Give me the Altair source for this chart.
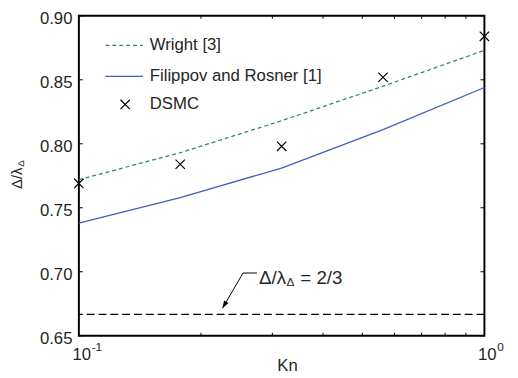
import altair as alt
import pandas as pd

# ---------------- data ----------------
kn = [0.1, 0.1778, 0.3162, 0.5623, 1.0]
wright = [0.772, 0.793, 0.818, 0.845, 0.873]
filippov = [0.738, 0.758, 0.781, 0.811, 0.844]
dsmc = [0.769, 0.784, 0.798, 0.852, 0.884]
limit_value = [2 / 3]
y_ticks = [0.65, 0.70, 0.75, 0.80, 0.85, 0.90]
x_major = [0.1, 1.0]
x_major_exp = ["-1", "0"]
x_minor = [0.2, 0.3, 0.4, 0.5, 0.6, 0.7, 0.8, 0.9]
legend_labels = ["Wright [3]", "Filippov and Rosner [1]", "DSMC"]
arrow_kn = [0.275, 0.254, 0.226]
arrow_y = [0.699, 0.699, 0.6715]

# ---------------- styling ----------------
W, H = 412, 325
FONT = "Liberation Sans"
TXT = "#262626"
GREEN = "#2b8f55"
BLUE = "#3d5fc2"
CROSS = "M-1,-1L1,1M-1,1L1,-1"
HEAD = "M0,0L-0.42,1.25L0.42,1.25Z"

xscale = alt.Scale(type="log", domain=[0.1, 1.0], nice=False)
yscale = alt.Scale(domain=[0.65, 0.90], nice=False, zero=False)
xaxis = alt.Axis(labels=False, ticks=False, domain=False, grid=False, title=None)
yaxis = alt.Axis(values=y_ticks, format=".2f", ticks=False, domain=False, grid=False,
                 title=None, labelFont=FONT, labelFontSize=17, labelColor=TXT,
                 labelPadding=7, labelFlush=False, labelOffset=2.5)


def X(f):
    return alt.X(f, type="quantitative", scale=xscale, axis=xaxis)


def Y(f):
    return alt.Y(f, type="quantitative", scale=yscale, axis=yaxis)


df = pd.DataFrame({"kn": kn, "wright": wright, "filippov": filippov, "dsmc": dsmc})

wright_line = alt.Chart(df).mark_line(color=GREEN, strokeDash=[4, 3], strokeWidth=1.3).encode(
    x=X("kn"), y=Y("wright"))
filippov_line = alt.Chart(df).mark_line(color=BLUE, strokeWidth=1.3).encode(
    x=X("kn"), y=Y("filippov"))
dsmc_pts = alt.Chart(df).mark_point(shape=CROSS, size=90, color="black", strokeWidth=1.2,
                                    filled=False, opacity=1).encode(x=X("kn"), y=Y("dsmc"))

limit_df = pd.DataFrame({"v": limit_value})
limit_rule = alt.Chart(limit_df).mark_rule(color="black", strokeDash=[8, 4], strokeWidth=1.2).encode(
    y=Y("v"))

arrow_df = pd.DataFrame({"kn": arrow_kn, "v": arrow_y, "i": list(range(len(arrow_kn)))})
arrow_line = alt.Chart(arrow_df).mark_line(color="black", strokeWidth=1).encode(
    x=X("kn"), y=Y("v"), order="i:O")
arrow_head = alt.Chart(arrow_df.tail(1)).mark_point(shape=HEAD, size=150, angle=210, filled=True,
                                                    color="black", opacity=1).encode(
    x=X("kn"), y=Y("v"))

anchor = pd.DataFrame({"kn": [arrow_kn[0]], "v": [arrow_y[0]],
                       "a": ["Δ/λ"], "b": ["Δ"], "c": ["= 2/3"]})
ann_a = alt.Chart(anchor).mark_text(font=FONT, fontSize=19, color=TXT, align="left",
                                    baseline="middle", dx=2, dy=5).encode(
    x=X("kn"), y=Y("v"), text="a:N")
ann_b = alt.Chart(anchor).mark_text(font=FONT, fontSize=12, color=TXT, align="left",
                                    baseline="middle", dx=30, dy=9.5).encode(
    x=X("kn"), y=Y("v"), text="b:N")
ann_c = alt.Chart(anchor).mark_text(font=FONT, fontSize=19, color=TXT, align="left",
                                    baseline="middle", dx=44, dy=5).encode(
    x=X("kn"), y=Y("v"), text="c:N")

# inside ticks on all four sides
yt = pd.DataFrame({"v": y_ticks})
ytick_l = alt.Chart(yt).mark_rule(color="black", strokeWidth=1).encode(
    y=Y("v"), x=alt.value(0), x2=alt.value(4))
ytick_r = alt.Chart(yt).mark_rule(color="black", strokeWidth=1).encode(
    y=Y("v"), x=alt.value(W - 4), x2=alt.value(W))
xt = pd.DataFrame({"kn": x_minor})
xtick_b = alt.Chart(xt).mark_rule(color="black", strokeWidth=1).encode(
    x=X("kn"), y=alt.value(H - 3), y2=alt.value(H))
xtick_t = alt.Chart(xt).mark_rule(color="black", strokeWidth=1).encode(
    x=X("kn"), y=alt.value(0), y2=alt.value(3))

# x tick labels 10^n
xl = pd.DataFrame({"kn": x_major, "base": ["10", "10"], "exp": x_major_exp})
xlab_base = alt.Chart(xl).mark_text(font=FONT, fontSize=17, color=TXT, align="center",
                                    baseline="middle", dx=3).encode(
    x=X("kn"), y=alt.value(H + 20), text="base:N")
xlab_exp = alt.Chart(xl).mark_text(font=FONT, fontSize=12, color=TXT, align="left",
                                   baseline="middle", dx=13).encode(
    x=X("kn"), y=alt.value(H + 12), text="exp:N")

# axis titles
kn_title = alt.Chart(pd.DataFrame({"t": ["Kn"]})).mark_text(
    font=FONT, fontSize=17, color=TXT, align="center", baseline="middle").encode(
    x=alt.value(212), y=alt.value(H + 31), text="t:N")
ytitle_a = alt.Chart(pd.DataFrame({"t": ["Δ/λ"]})).mark_text(
    font=FONT, fontSize=15, color=TXT, align="center", baseline="middle", angle=270).encode(
    x=alt.value(-63), y=alt.value(165), text="t:N")
ytitle_b = alt.Chart(pd.DataFrame({"t": ["Δ"]})).mark_text(
    font=FONT, fontSize=10, color=TXT, align="center", baseline="middle", angle=270).encode(
    x=alt.value(-59), y=alt.value(150), text="t:N")

# legend (drawn by hand, inside top-left)
leg_rows = [30, 61.5, 90]
leg_layers = []
leg_layers.append(alt.Chart(pd.DataFrame({"t": [legend_labels[0]]})).mark_rule(
    color=GREEN, strokeDash=[4, 3], strokeWidth=1.3).encode(
    x=alt.value(27), x2=alt.value(65), y=alt.value(leg_rows[0])))
leg_layers.append(alt.Chart(pd.DataFrame({"t": [legend_labels[1]]})).mark_rule(
    color=BLUE, strokeWidth=1.3).encode(
    x=alt.value(27), x2=alt.value(65), y=alt.value(leg_rows[1])))
leg_layers.append(alt.Chart(pd.DataFrame({"t": [legend_labels[2]]})).mark_point(
    shape=CROSS, size=90, color="black", strokeWidth=1.2, filled=False, opacity=1).encode(
    x=alt.value(47), y=alt.value(leg_rows[2])))
for lab, yy in zip(legend_labels, leg_rows):
    leg_layers.append(alt.Chart(pd.DataFrame({"t": [lab]})).mark_text(
        font=FONT, fontSize=17, color=TXT, align="left", baseline="middle").encode(
        x=alt.value(72), y=alt.value(yy), text="t:N"))

chart = alt.layer(
    limit_rule, wright_line, filippov_line, dsmc_pts,
    arrow_line, arrow_head, ann_a, ann_b, ann_c,
    ytick_l, ytick_r, xtick_b, xtick_t,
    xlab_base, xlab_exp, kn_title, ytitle_a, ytitle_b,
    *leg_layers
).properties(
    width=W, height=H,
    autosize=alt.AutoSizeParams(type="none"),
    padding={"left": 72, "top": 5, "right": 26, "bottom": 40},
    background="white",
).configure_view(stroke="black", strokeWidth=2)

chart.save("out.html", embed_options={"renderer": "svg", "actions": False})
